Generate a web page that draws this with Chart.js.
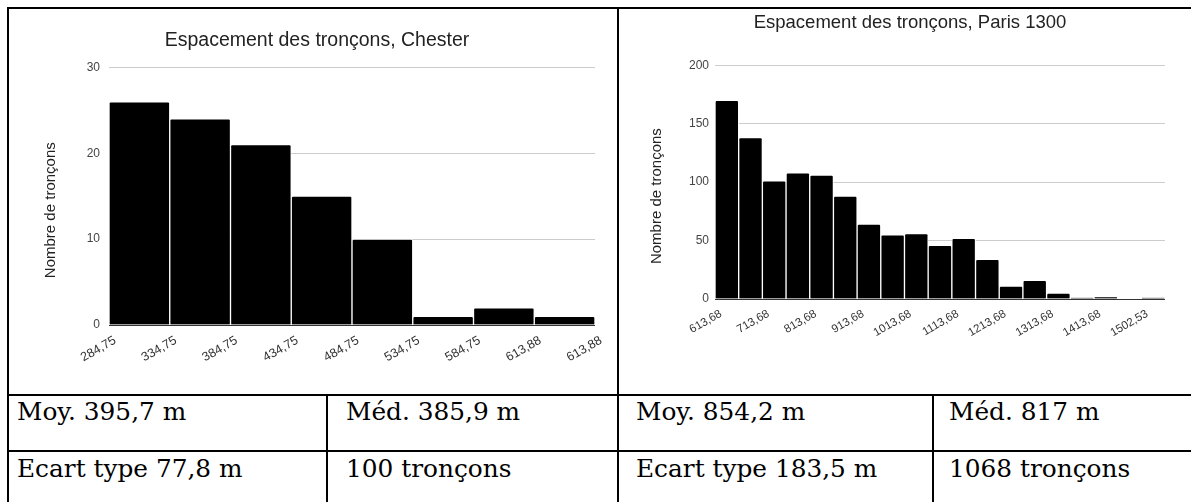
<!DOCTYPE html>
<html>
<head>
<meta charset="utf-8">
<script src="https://cdn.jsdelivr.net/npm/chart.js@4.4.1/dist/chart.umd.min.js"></script>
<style>
  html, body { margin: 0; padding: 0; background: #fff; }
  body { width: 1191px; height: 502px; position: relative; overflow: hidden; }
  .ln { position: absolute; background: #000; }
  .cell { position: absolute; font-family: 'DejaVu Serif', serif; font-size: 24.8px; line-height: 1; color: #000; white-space: nowrap; }
  canvas { position: absolute; }
</style>
</head>
<body>
<canvas id="chester" width="608" height="380" style="left:9px;top:9px"></canvas>
<canvas id="paris" width="572" height="380" style="left:619px;top:9px"></canvas>

<!-- table borders -->
<div class="ln" style="left:7px;top:7px;width:1184px;height:2px"></div>
<div class="ln" style="left:7px;top:7px;width:2px;height:495px"></div>
<div class="ln" style="left:617px;top:7px;width:2px;height:495px"></div>
<div class="ln" style="left:7px;top:394px;width:1184px;height:2px"></div>
<div class="ln" style="left:7px;top:450px;width:1184px;height:2px"></div>
<div class="ln" style="left:326px;top:394px;width:2px;height:108px"></div>
<div class="ln" style="left:932px;top:394px;width:2px;height:108px"></div>

<div class="cell" style="left:17px;top:400px">Moy. 395,7 m</div>
<div class="cell" style="left:346px;top:400px">Méd. 385,9 m</div>
<div class="cell" style="left:636px;top:400px">Moy. 854,2 m</div>
<div class="cell" style="left:949px;top:400px">Méd. 817 m</div>
<div class="cell" style="left:17px;top:457px">Ecart type 77,8 m</div>
<div class="cell" style="left:346px;top:457px">100 tronçons</div>
<div class="cell" style="left:636px;top:457px">Ecart type 183,5 m</div>
<div class="cell" style="left:949px;top:457px">1068 tronçons</div>

<script>
// ===== DATA =====
// Chester: 8 classes, labels sit on the class edges
const chesterEdges = ['284,75', '334,75', '384,75', '434,75', '484,75', '534,75', '584,75', '613,88', '613,88'];
const chesterCounts = [26, 24, 21, 15, 10, 1, 2, 1];
const chesterTicks = [0, 10, 20, 30];

// Paris 1300: 19 classes, a label every second edge
const parisEdges = ['613,68', '713,68', '813,68', '913,68', '1013,68', '1113,68', '1213,68', '1313,68', '1413,68', '1502,53'];
const parisCounts = [170, 138, 101, 108, 106, 88, 64, 55, 56, 46, 52, 34, 11, 16, 5, 1, 2, 0, 1];
const parisTicks = [0, 50, 100, 150, 200];

const yTitle = 'Nombre de tronçons';

Chart.defaults.font.family = "'Liberation Sans', Arial, sans-serif";
Chart.defaults.color = '#444';

// rotated y-axis title, drawn a bit below the plot centre like Sheets does
const sideTitle = {
    id: 'sideTitle',
    afterDraw(chart, args, opts) {
        const { ctx, chartArea } = chart;
        ctx.save();
        ctx.translate(chartArea.left - opts.gap, (chartArea.top + chartArea.bottom) / 2 + opts.shift);
        ctx.rotate(-Math.PI / 2);
        ctx.font = opts.size + "px 'Liberation Sans', Arial, sans-serif";
        ctx.fillStyle = '#222';
        ctx.textAlign = 'center';
        ctx.textBaseline = 'middle';
        ctx.fillText(opts.text, 0, 0);
        ctx.restore();
    }
};

function histogram(id, o) {
    const points = o.counts.map((v, i) => ({ x: i + 0.5, y: v }));
    return new Chart(document.getElementById(id), {
        type: 'bar',
        data: {
            datasets: [{
                data: points,
                backgroundColor: '#000',
                borderColor: '#fff',
                borderWidth: 1,
                borderSkipped: 'bottom',
                borderRadius: 2,
                barPercentage: 1,
                categoryPercentage: 1,
            }]
        },
        plugins: [sideTitle],
        options: {
            responsive: false,
            animation: false,
            events: [],
            layout: { padding: { left: o.padLeft, right: o.padRight, top: 0, bottom: 0 } },
            plugins: {
                legend: { display: false },
                tooltip: { enabled: false },
                title: {
                    display: true,
                    text: o.title,
                    color: '#222',
                    font: { size: o.titleSize, weight: 'normal' },
                    padding: { top: o.titleTop, bottom: o.titleBottom },
                },
                sideTitle: { text: yTitle, gap: 58, shift: 14, size: 15 },
            },
            scales: {
                x: {
                    type: 'linear',
                    offset: false,
                    min: 0,
                    max: o.counts.length,
                    grid: { display: false },
                    border: { display: false },
                    ticks: {
                        stepSize: o.labelStep,
                        includeBounds: false,
                        autoSkip: false,
                        maxRotation: 30,
                        minRotation: 30,
                        padding: 0,
                        labelOffset: 6,
                        color: '#333',
                        font: { size: o.tickSize },
                        callback: v => o.edges[Math.round(v / o.labelStep)] ?? '',
                    },
                    afterFit: s => { s.height = o.xHeight; s.paddingLeft = 0; s.paddingRight = 0; },
                },
                y: {
                    min: 0,
                    max: o.ticks[o.ticks.length - 1],
                    afterBuildTicks: s => { s.ticks = o.ticks.map(v => ({ value: v })); },
                    grid: {
                        drawTicks: false,
                        color: c => c.tick && c.tick.value === 0 ? '#333' : '#ccc',
                    },
                    border: { display: false },
                    ticks: { padding: o.yPad, color: '#444', font: { size: 12 } },
                    afterFit: s => { s.width = o.yWidth; s.paddingTop = 0; s.paddingBottom = 0; },
                },
            },
        },
    });
}

histogram('chester', {
    title: 'Espacement des tronçons, Chester',
    titleSize: 19.5, titleTop: 20, titleBottom: 15,
    counts: chesterCounts, edges: chesterEdges, ticks: chesterTicks,
    labelStep: 1, tickSize: 12.5, yPad: 9,
    padLeft: 30, yWidth: 70, padRight: 22, xHeight: 64,
});

histogram('paris', {
    title: 'Espacement des tronçons, Paris 1300',
    titleSize: 18.5, titleTop: 3, titleBottom: 31,
    counts: parisCounts, edges: parisEdges, ticks: parisTicks,
    labelStep: 2, tickSize: 11.5, yPad: 6,
    padLeft: 36, yWidth: 60, padRight: 26, xHeight: 90,
});
</script>
</body>
</html>
